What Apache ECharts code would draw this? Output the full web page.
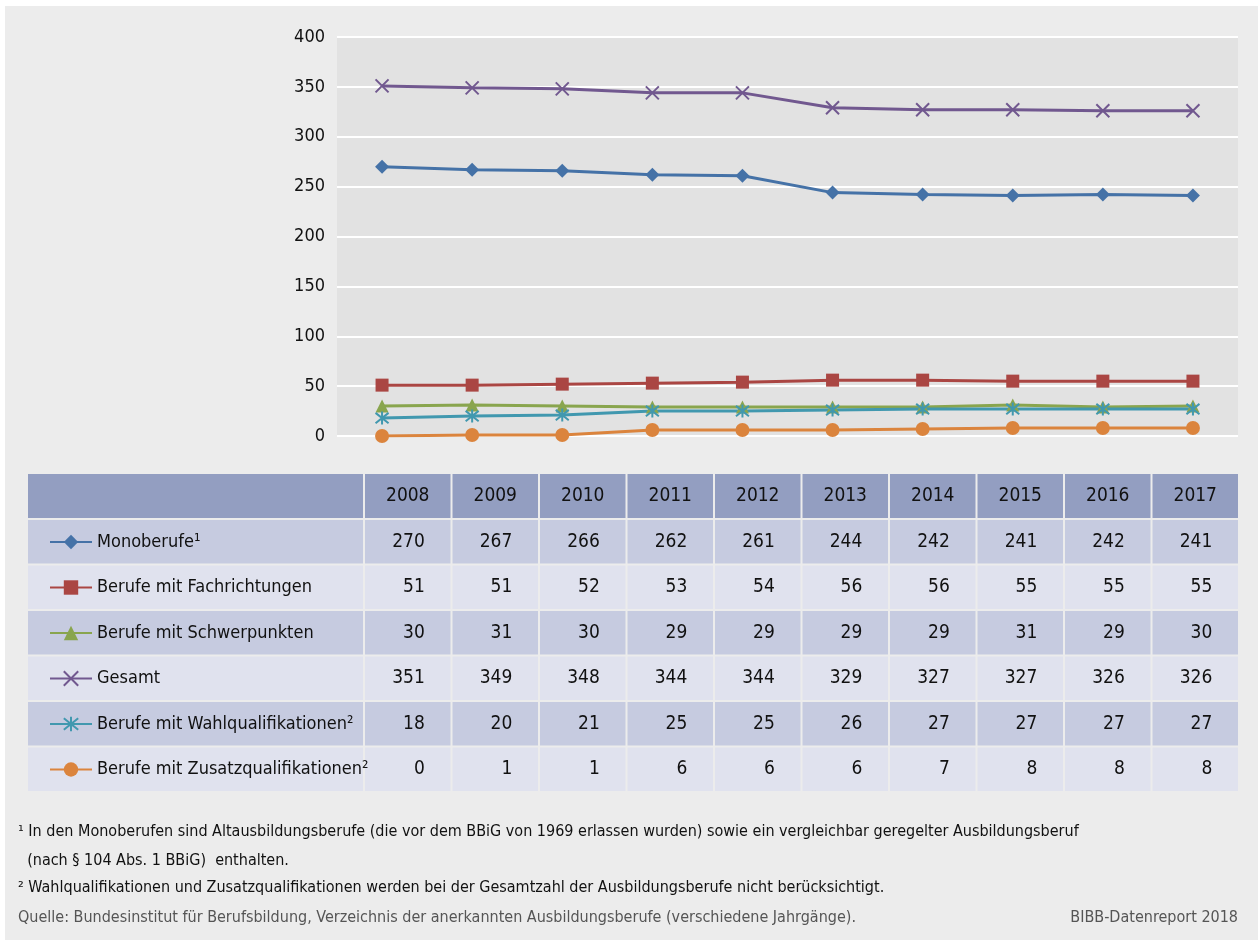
<!DOCTYPE html>
<html>
<head>
<meta charset="utf-8">
<script src="https://cdn.jsdelivr.net/npm/echarts@6/dist/echarts.min.js"></script>
<style>
  html, body { margin: 0; padding: 0; background: #fff; }
  #main { width: 1258px; height: 943px; }
</style>
</head>
<body>
<div id="main"></div>
<script>
var years = ['2008', '2009', '2010', '2011', '2012', '2013', '2014', '2015', '2016', '2017'];
var monoberufe = [270, 267, 266, 262, 261, 244, 242, 241, 242, 241];
var fachrichtungen = [51, 51, 52, 53, 54, 56, 56, 55, 55, 55];
var schwerpunkte = [30, 31, 30, 29, 29, 29, 29, 31, 29, 30];
var gesamt = [351, 349, 348, 344, 344, 329, 327, 327, 326, 326];
var wahlqual = [18, 20, 21, 25, 25, 26, 27, 27, 27, 27];
var zusatzqual = [0, 1, 1, 6, 6, 6, 7, 8, 8, 8];
var names = ['Monoberufe\u00b9', 'Berufe mit Fachrichtungen', 'Berufe mit Schwerpunkten', 'Gesamt',
  'Berufe mit Wahlqualifikationen\u00b2', 'Berufe mit Zusatzqualifikationen\u00b2'];
var yTicks = [0, 50, 100, 150, 200, 250, 300, 350, 400];
var footnotes = [
  '\u00b9 In den Monoberufen sind Altausbildungsberufe (die vor dem BBiG von 1969 erlassen wurden) sowie ein vergleichbar geregelter Ausbildungsberuf',
  '  (nach \u00a7 104 Abs. 1 BBiG)  enthalten.',
  '\u00b2 Wahlqualifikationen und Zusatzqualifikationen werden bei der Gesamtzahl der Ausbildungsberufe nicht ber\u00fccksichtigt.'
];
var quelle = 'Quelle: Bundesinstitut f\u00fcr Berufsbildung, Verzeichnis der anerkannten Ausbildungsberufe (verschiedene Jahrg\u00e4nge).';
var credit = 'BIBB-Datenreport 2018';

var FONT = '"Liberation Sans Narrow", "DejaVu Sans Condensed", "Roboto", sans-serif';
var colors = ['#4572a7', '#aa4643', '#89a54e', '#71588f', '#4198af', '#db843d'];
var symbols = ['diamond', 'rect', 'triangle',
  'path://M0,0L10,10M10,0L0,10',
  'path://M5,0L5,10M1,1L9,9M9,1L1,9',
  'circle'];
var symbolSizes = [14, 13, 13, 13, 13, 14];
var allData = [monoberufe, fachrichtungen, schwerpunkte, gesamt, wahlqual, zusatzqual];

var chart = echarts.init(document.getElementById('main'));

// table layout
var tableLeft = 28, labelRight = 363, tableRight = 1238;
var headTop = 474, headH = 44, rowTop = 520, rowStep = 45.5, rowH = 43.5;
var colW = (tableRight - labelRight) / years.length;

var graphic = [
  { type: 'rect', shape: { x: 5, y: 6, width: 1253, height: 934 }, style: { fill: '#ececec' }, z: -10 }
];
// header row
graphic.push({ type: 'rect', shape: { x: tableLeft, y: headTop, width: labelRight - tableLeft, height: headH }, style: { fill: '#939ec1' } });
years.forEach(function (y, i) {
  var x0 = labelRight + 2 + i * colW;
  graphic.push({ type: 'rect', shape: { x: x0, y: headTop, width: colW - 2, height: headH }, style: { fill: '#939ec1' } });
  graphic.push({ type: 'text', x: x0 + (colW - 2) / 2, y: headTop + headH / 2,
    style: { text: y, fill: '#111', font: '19px ' + FONT, align: 'center', verticalAlign: 'middle' } });
});
// data rows
allData.forEach(function (vals, r) {
  var fill = r % 2 === 0 ? '#c6cbe0' : '#e0e2ee';
  var top = rowTop + r * rowStep;
  graphic.push({ type: 'rect', shape: { x: tableLeft, y: top, width: labelRight - tableLeft, height: rowH }, style: { fill: fill } });
  vals.forEach(function (v, i) {
    var x0 = labelRight + 2 + i * colW;
    graphic.push({ type: 'rect', shape: { x: x0, y: top, width: colW - 2, height: rowH }, style: { fill: fill } });
    graphic.push({ type: 'text', x: x0 + (colW - 2) / 2 + 17, y: top + rowH / 2,
      style: { text: String(v), fill: '#111', font: '19px ' + FONT, align: 'right', verticalAlign: 'middle' } });
  });
});
// footnotes
footnotes.forEach(function (t, i) {
  graphic.push({ type: 'text', x: 18, y: [832, 861, 888][i],
    style: { text: t, fill: '#111', font: '16px ' + FONT, verticalAlign: 'middle' } });
});
graphic.push({ type: 'text', x: 18, y: 918, style: { text: quelle, fill: '#555', font: '16px ' + FONT, verticalAlign: 'middle' } });
graphic.push({ type: 'text', x: 1238, y: 918, style: { text: credit, fill: '#555', font: '16px ' + FONT, align: 'right', verticalAlign: 'middle' } });

var series = allData.map(function (vals, i) {
  return {
    name: names[i],
    type: 'line',
    data: vals,
    symbol: symbols[i],
    symbolSize: symbolSizes[i],
    showAllSymbol: true,
    lineStyle: { color: colors[i], width: 3 },
    itemStyle: { color: colors[i], borderColor: colors[i], borderWidth: i === 3 || i === 4 ? 2 : 0 },
    emphasis: { disabled: true }
  };
});

var option = {
  backgroundColor: '#ffffff',
  animation: false,
  textStyle: { fontFamily: FONT },
  graphic: graphic,
  grid: {
    left: 337, right: 20, top: 37, bottom: 943 - 436,
    show: true, backgroundColor: '#e2e2e2', borderWidth: 0
  },
  legend: {
    orient: 'vertical',
    left: 49,
    top: 533,
    padding: 0,
    itemWidth: 42,
    itemHeight: 18,
    itemGap: 27.5,
    selectedMode: false,
    textStyle: { fontSize: 18, color: '#111', fontFamily: FONT },
    data: names
  },
  xAxis: {
    type: 'category',
    data: years,
    boundaryGap: true,
    axisLine: { show: false },
    axisTick: { show: false },
    axisLabel: { show: false },
    splitLine: { show: false }
  },
  yAxis: {
    type: 'value',
    min: yTicks[0],
    max: yTicks[yTicks.length - 1],
    interval: yTicks[1] - yTicks[0],
    axisLine: { show: false },
    axisTick: { show: false },
    axisLabel: { fontSize: 18, color: '#111', margin: 12, fontFamily: FONT },
    splitLine: { lineStyle: { color: '#ffffff', width: 2 } }
  },
  series: series
};
chart.setOption(option);
</script>
</body>
</html>
